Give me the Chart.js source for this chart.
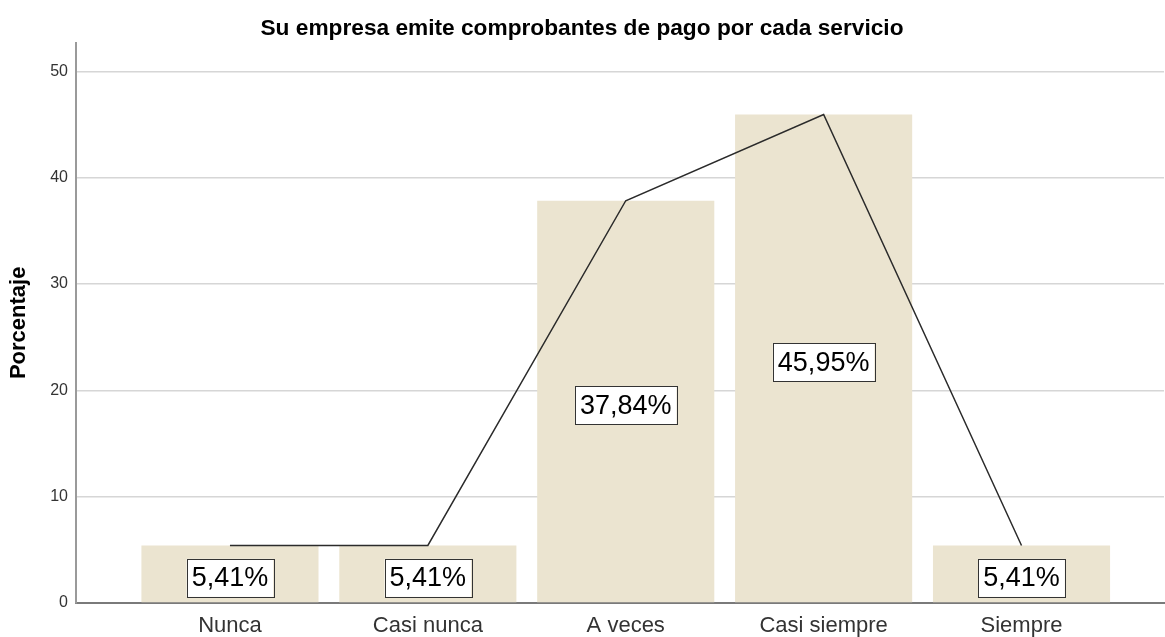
<!DOCTYPE html>
<html>
<head>
<meta charset="utf-8">
<script src="https://cdn.jsdelivr.net/npm/chart.js@4.4.1/dist/chart.umd.min.js"></script>
<style>
  html, body { margin: 0; padding: 0; background: #fff; }
  #wrap { width: 1165px; height: 637px; }
</style>
</head>
<body>
<div id="wrap"><canvas id="chart"></canvas></div>
<script>
const categories = ["Nunca", "Casi nunca", "A veces", "Casi siempre", "Siempre"];
const percentages = [5.41, 5.41, 37.84, 45.95, 5.41];
const yTicks = [0, 10, 20, 30, 40, 50];

const FONT = "'Liberation Sans', Arial, sans-serif";

// white boxed percentage labels in the middle of each bar
const barLabels = {
  id: "barLabels",
  afterDatasetsDraw(chart) {
    const ctx = chart.ctx;
    const meta = chart.getDatasetMeta(0);
    ctx.save();
    ctx.font = "27px " + FONT;
    ctx.textAlign = "center";
    ctx.textBaseline = "middle";
    meta.data.forEach((bar, i) => {
      const txt = percentages[i].toFixed(2).replace(".", ",") + "%";
      const w = ctx.measureText(txt).width + 10;
      const h = 38;
      const cy = (bar.y + bar.base) / 2 + 4;
      ctx.fillStyle = "#fff";
      ctx.fillRect(bar.x - w / 2, cy - h / 2, w, h);
      ctx.strokeStyle = "#333";
      ctx.lineWidth = 1;
      ctx.strokeRect(Math.round(bar.x - w / 2) + 0.5, Math.round(cy - h / 2) + 0.5, Math.round(w), h);
      ctx.fillStyle = "#000";
      ctx.fillText(txt, bar.x, cy + 1);
    });
    ctx.restore();
  }
};

const points = percentages.map((v, i) => ({ x: i + 1, y: v }));

new Chart(document.getElementById("chart"), {
  data: {
    datasets: [
      {
        type: "bar",
        data: points,
        backgroundColor: "#ebe4d0",
        borderWidth: 0,
        categoryPercentage: 1,
        barPercentage: 0.895,
        order: 2
      },
      {
        type: "line",
        data: points,
        borderColor: "#2b2b2b",
        borderWidth: 1.5,
        pointRadius: 0,
        tension: 0,
        order: 1
      }
    ]
  },
  options: {
    responsive: true,
    maintainAspectRatio: false,
    animation: false,
    layout: { padding: { right: 1 } },
    plugins: {
      legend: { display: false },
      tooltip: { enabled: false },
      title: {
        display: true,
        text: "Su empresa emite comprobantes de pago por cada servicio",
        color: "#000",
        font: { family: FONT, size: 22.7, weight: "bold" },
        padding: { top: 15.5, bottom: 0 }
      }
    },
    scales: {
      x: {
        type: "linear",
        offset: false,
        min: 0.222,
        max: 5.72,
        afterBuildTicks: (s) => { s.ticks = categories.map((c, i) => ({ value: i + 1 })); },
        afterFit: (s) => { s.height = 34; },
        ticks: {
          autoSkip: false,
          maxRotation: 0,
          color: "#333",
          padding: 10,
          font: { family: FONT, size: 22 },
          callback: (v) => categories[v - 1]
        },
        grid: { display: false, drawTicks: false },
        border: { display: true, color: "#7a7a7a", width: 2 }
      },
      y: {
        min: 0,
        max: 52.7,
        afterBuildTicks: (s) => { s.ticks = yTicks.map((v) => ({ value: v })); },
        afterFit: (s) => { s.width = 76; },
        title: {
          display: true,
          text: "Porcentaje",
          color: "#000",
          font: { family: FONT, size: 22, weight: "bold" },
          padding: { top: 6, bottom: 0 }
        },
        ticks: {
          color: "#333",
          padding: 8,
          font: { family: FONT, size: 16 }
        },
        grid: {
          drawTicks: false,
          lineWidth: 1.5,
          color: (c) => (c.tick && c.tick.value === 0 ? "rgba(0,0,0,0)" : "#d6d6d6")
        },
        border: { display: true, color: "#9a9a9a", width: 2 }
      }
    }
  },
  plugins: [barLabels]
});
</script>
</body>
</html>
